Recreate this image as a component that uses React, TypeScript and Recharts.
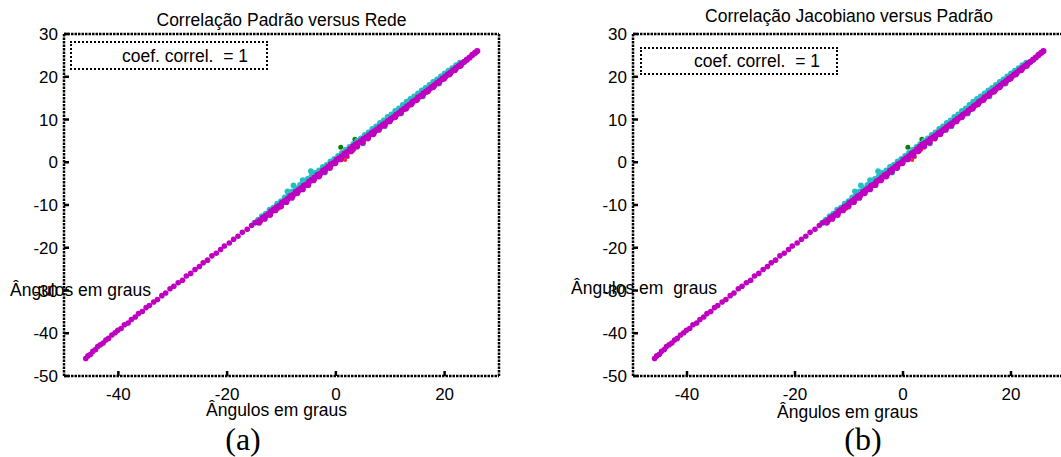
import React from 'react';
import { ScatterChart, Scatter, XAxis, YAxis } from 'recharts';

// ---- data (degrees) ----
const xTicks = [-40, -20, 0, 20];
const yTicks = [-50, -40, -30, -20, -10, 0, 10, 20, 30];
const axisDomain: [number, number] = [-50, 30];

const magentaLow: [number, number][] = [
  [-46.0, -45.9], [-45.6, -45.3], [-45.1, -44.9], [-44.7, -44.2], [-44.2, -43.8], [-43.8, -43.1],
  [-43.3, -42.7], [-42.8, -42.3], [-42.3, -41.6], [-41.8, -41.2], [-41.2, -40.4], [-40.6, -39.9],
  [-40.1, -39.3], [-39.5, -38.9], [-38.9, -38.0], [-38.2, -37.6], [-37.6, -36.8], [-36.9, -36.2],
  [-36.3, -35.4], [-35.6, -34.9], [-34.9, -34.0], [-34.3, -33.5], [-33.5, -32.7], [-32.8, -32.1],
  [-32.0, -31.2], [-31.3, -30.6], [-30.5, -29.6], [-29.8, -29.0], [-29.0, -28.2], [-28.2, -27.6],
  [-27.5, -26.6], [-26.7, -26.0], [-25.9, -25.1], [-25.1, -24.4], [-24.4, -23.5], [-23.6, -22.9],
  [-22.8, -21.9], [-22.0, -21.3], [-21.2, -20.4], [-20.5, -19.6], [-19.6, -18.9], [-18.8, -18.0],
  [-18.0, -17.3], [-17.2, -16.4], [-16.3, -15.7], [-15.5, -14.8], [-14.8, -14.1],
];

const magentaHigh: [number, number][] = [
  [-14.4, -14.0], [-13.9, -13.6], [-13.4, -13.0], [-12.9, -12.6], [-12.4, -12.1], [-11.9, -11.5],
  [-11.4, -11.1], [-10.9, -10.5], [-10.4, -10.2], [-9.9, -9.5], [-9.4, -9.1], [-8.9, -8.6],
  [-8.4, -8.0], [-7.9, -7.7], [-7.4, -7.0], [-6.9, -6.6], [-6.4, -6.1], [-5.9, -5.5],
  [-5.4, -5.2], [-4.9, -4.5], [-4.4, -4.1], [-3.9, -3.6], [-3.4, -3.0], [-2.9, -2.7],
  [-2.4, -2.0], [-1.9, -1.6], [-1.4, -1.1], [-0.9, -0.5], [-0.4, -0.2], [0.1, 0.5],
  [0.6, 0.9], [1.1, 1.4], [1.6, 2.0], [2.1, 2.4], [2.6, 3.0], [3.1, 3.6],
  [3.6, 4.1], [4.1, 4.5], [4.6, 4.9], [5.1, 5.4], [5.6, 5.8], [6.1, 6.3],
  [6.6, 6.8], [7.1, 7.2], [7.6, 7.7], [8.1, 8.2], [8.6, 8.7], [9.1, 9.1],
  [9.6, 9.6], [10.1, 10.1], [10.6, 10.5], [11.1, 11.1], [11.6, 11.5], [12.1, 12.1],
  [12.6, 12.5], [13.1, 13.1], [13.6, 13.5], [14.1, 14.1], [14.6, 14.5], [15.1, 15.1],
  [15.6, 15.5], [16.1, 16.1], [16.6, 16.5], [17.1, 17.0], [17.6, 17.5], [18.1, 18.0],
  [18.6, 18.5], [19.1, 19.0], [19.6, 19.5], [20.1, 20.0], [20.6, 20.5], [21.1, 21.0],
  [21.6, 21.5], [22.1, 22.0], [22.6, 22.5], [23.1, 23.0], [23.6, 23.5], [24.1, 24.0],
  [24.6, 24.5], [25.1, 25.1], [25.6, 25.6], [26.0, 26.0],
];

const magentaBand: [number, number][] = [
  [-14.1, -14.1], [-13.1, -13.2], [-12.1, -12.3], [-11.1, -11.2], [-10.1, -10.3], [-9.1, -9.3],
  [-8.1, -8.3], [-7.1, -7.2], [-6.1, -6.3], [-5.1, -5.3], [-4.1, -4.2], [-3.1, -3.3],
  [-2.1, -2.2], [-1.1, -1.3], [-0.1, -0.2], [0.9, 0.7], [1.9, 1.6], [2.9, 2.7],
  [3.9, 3.7], [4.9, 4.6], [5.9, 5.6], [6.9, 6.6], [7.9, 7.6], [8.9, 8.6],
  [9.9, 9.6], [10.9, 10.6], [11.9, 11.6], [12.9, 12.6], [13.9, 13.6], [14.9, 14.6],
  [15.9, 15.6], [16.9, 16.6], [17.9, 17.6], [18.9, 18.6], [19.9, 19.6], [20.9, 20.6],
  [21.9, 21.6], [22.9, 22.6],
];

const cyanPts: [number, number][] = [
  [-15.0, -14.2], [-14.3, -13.4], [-13.6, -12.6], [-12.9, -12.0], [-12.2, -11.1], [-11.5, -10.6],
  [-10.8, -9.7], [-10.1, -9.1], [-9.4, -8.2], [-8.9, -6.8], [-8.7, -7.6], [-8.0, -6.8],
  [-7.8, -5.4], [-7.3, -6.1], [-6.6, -5.3], [-6.1, -4.2], [-5.9, -4.7], [-5.2, -3.9],
  [-4.6, -2.1], [-4.5, -3.3], [-3.8, -2.5], [-3.1, -1.9], [-2.4, -1.1], [-1.7, -0.6],
  [-1.0, 0.2], [-0.3, 0.8], [0.4, 1.5], [1.1, 2.2], [1.8, 2.9], [2.5, 3.6],
  [3.2, 4.3], [3.9, 5.0], [4.6, 5.6], [5.3, 6.4], [6.0, 7.0], [6.7, 7.8],
  [7.4, 8.4], [8.1, 9.2], [8.8, 9.8], [9.5, 10.6], [10.2, 11.2], [10.9, 12.0],
  [11.6, 12.6], [12.3, 13.4], [13.0, 14.2], [13.7, 14.8], [14.4, 15.4], [15.1, 16.1],
  [15.8, 16.8], [16.5, 17.4], [17.2, 18.1], [17.9, 18.8], [18.6, 19.4], [19.3, 20.1],
  [20.0, 20.8], [20.7, 21.4], [21.4, 22.0], [22.1, 22.7], [22.8, 23.3],
  [-2.0, -2.4], [5.0, 4.4], [9.0, 8.4], [12.0, 11.4], [16.0, 15.4], [19.0, 18.4],
];

const redPts: [number, number][] = [
  [1.7, 0.5], [2.8, 2.3], [2.2, 1.2], [3.4, 2.9], [-10.5, -10.9],
];

const greenPts: [number, number][] = [
  [0.9, 3.5], [3.5, 5.4], [1.9, 2.9],
];

const toObj = (arr: [number, number][]) => arr.map(([x, y]) => ({ x, y }));

const SANS = '"Liberation Sans", Arial, sans-serif';
const SERIF = '"Liberation Serif", "Times New Roman", serif';

const frameLine = { stroke: '#000', strokeWidth: 2.5, strokeDasharray: '2.5 1' };
const tickLineStyle = { stroke: '#000', strokeWidth: 2.5 };

const dot = (r: number) => (props: any) => (
  <circle cx={props.cx} cy={props.cy} r={r} fill={props.fill} />
);

type TxtProps = { left: number; baseline: number; size: number; font?: string; children: React.ReactNode; width?: number; center?: boolean };
const Txt = ({ left, baseline, size, font = SANS, children, width, center }: TxtProps) => {
  const k = font === SANS ? 0.8465 : 0.8375;
  const top = baseline - k * size;
  return (
    <div
      style={{
        position: 'absolute', left, top, width,
        textAlign: center ? 'center' : 'left',
        fontFamily: font, fontSize: size, lineHeight: 1, whiteSpace: 'pre', color: '#000',
      }}
    >
      {children}
    </div>
  );
};

type PanelProps = { left: number; width: number; margin: { top: number; left: number; right: number; bottom: number } };
const Panel = ({ left, width, margin }: PanelProps) => (
  <div style={{ position: 'absolute', left, top: 0 }}>
    <ScatterChart width={width} height={457} margin={margin}>
      <XAxis
        xAxisId="b" type="number" dataKey="x" domain={axisDomain} ticks={xTicks} allowDataOverflow
        height={1} tickSize={-5} tickMargin={17} axisLine={frameLine} tickLine={tickLineStyle}
        tick={{ fill: '#000', fontSize: 17, fontFamily: SANS }}
      />
      <XAxis
        xAxisId="t" orientation="top" type="number" domain={axisDomain} ticks={xTicks} allowDataOverflow
        height={1} tickSize={-5} axisLine={frameLine} tickLine={tickLineStyle} tick={false}
      />
      <YAxis
        yAxisId="l" type="number" dataKey="y" domain={axisDomain} ticks={yTicks} allowDataOverflow
        width={1} tickSize={-5} tickMargin={11} axisLine={frameLine} tickLine={tickLineStyle}
        tick={{ fill: '#000', fontSize: 17, fontFamily: SANS }}
      />
      <YAxis
        yAxisId="r" orientation="right" type="number" domain={axisDomain} ticks={yTicks} allowDataOverflow
        width={1} tickSize={-5} axisLine={frameLine} tickLine={tickLineStyle} tick={false}
      />
      <Scatter xAxisId="b" yAxisId="l" data={toObj(redPts)} fill="#ff2a1a" shape={dot(2)} isAnimationActive={false} />
      <Scatter xAxisId="b" yAxisId="l" data={toObj(greenPts)} fill="#0a7d0a" shape={dot(2.5)} isAnimationActive={false} />
      <Scatter xAxisId="b" yAxisId="l" data={toObj(cyanPts)} fill="#22bfc4" shape={dot(2.9)} isAnimationActive={false} />
      <Scatter xAxisId="b" yAxisId="l" data={toObj(magentaLow)} fill="#c000c0" shape={dot(2.8)} isAnimationActive={false} />
      <Scatter xAxisId="b" yAxisId="l" data={toObj(magentaBand)} fill="#c000c0" shape={dot(3.1)} isAnimationActive={false} />
      <Scatter xAxisId="b" yAxisId="l" data={toObj(magentaHigh)} fill="#c000c0" shape={dot(3.1)} isAnimationActive={false} />
    </ScatterChart>
  </div>
);

const legendBox = (left: number, top: number, w: number, h: number) => (
  <div
    style={{
      position: 'absolute', left, top, width: w, height: h, boxSizing: 'border-box',
      border: '2px dotted #000',
    }}
  />
);

export default function App() {
  return (
    <div style={{ position: 'absolute', left: 0, top: 0, width: 1061, height: 457, overflow: 'hidden', background: '#fff' }}>
      <Panel left={0} width={530} margin={{ top: 33, left: 63, right: 30, bottom: 80 }} />
      <Panel left={531} width={540} margin={{ top: 33, left: 101, right: 5, bottom: 80 }} />

      <Txt left={64} width={435} center baseline={27} size={17.5}>Correlação Padrão versus Rede</Txt>
      <Txt left={633} width={432} center baseline={23} size={17.5}>Correlação Jacobiano versus Padrão</Txt>

      {legendBox(70, 41, 198, 29)}
      <Txt left={122} baseline={63} size={17.5}>coef. correl.  = 1</Txt>
      {legendBox(640, 47, 198, 28)}
      <Txt left={694} baseline={68} size={17.5}>coef. correl.  = 1</Txt>

      <Txt left={10} baseline={297} size={17.5}>Ângulos em graus</Txt>
      <Txt left={571} baseline={295} size={17.5}>Ângulos em  graus</Txt>

      <Txt left={206} baseline={417} size={17.5}>Ângulos em graus</Txt>
      <Txt left={777} baseline={419} size={17.5}>Ângulos em graus</Txt>

      <Txt left={200} width={86} center baseline={450} size={32} font={SERIF}>(a)</Txt>
      <Txt left={820} width={86} center baseline={450} size={32} font={SERIF}>(b)</Txt>
    </div>
  );
}
